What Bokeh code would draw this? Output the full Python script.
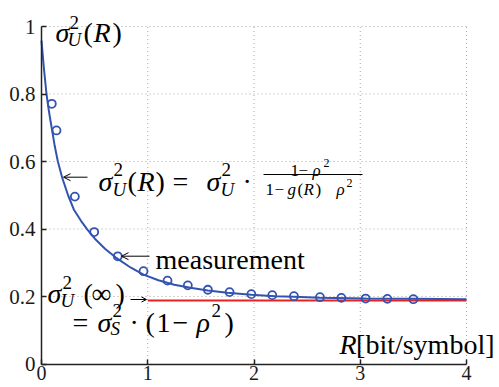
from bokeh.plotting import figure
from bokeh.models import Range1d, Label, Arrow, OpenHead, FixedTicker
from bokeh.embed import file_html
from bokeh.resources import INLINE

# ---- data ----
R_curve = [0.000, 0.020, 0.047, 0.069, 0.085, 0.100, 0.125, 0.154, 0.195, 0.250,
           0.304, 0.370, 0.430, 0.500, 0.600, 0.697, 0.838, 0.960, 1.100, 1.250,
           1.400, 1.566, 1.750, 1.975, 2.200, 2.376, 2.620, 3.050, 3.500, 4.000]
var_curve = [0.958, 0.885, 0.800, 0.751, 0.720, 0.692, 0.645, 0.600, 0.552, 0.500,
             0.458, 0.425, 0.399, 0.372, 0.341, 0.316, 0.286, 0.265, 0.248, 0.235,
             0.226, 0.218, 0.211, 0.205, 0.201, 0.199, 0.196, 0.194, 0.193, 0.192]

R_meas = [0.097, 0.141, 0.314, 0.496, 0.718, 0.960, 1.186, 1.377, 1.566, 1.770,
          1.975, 2.172, 2.376, 2.621, 2.822, 3.051, 3.255, 3.500]
var_meas = [0.771, 0.692, 0.496, 0.391, 0.319, 0.275, 0.247, 0.233, 0.220, 0.213,
            0.207, 0.204, 0.201, 0.198, 0.196, 0.194, 0.193, 0.192]

R_limit = [1.0, 4.0]
var_limit = [0.188, 0.188]

x_ticks = [0, 1, 2, 3, 4]
x_tick_labels = ["0", "1", "2", "3", "4"]
y_ticks = [0, 0.2, 0.4, 0.6, 0.8, 1]
y_tick_labels = ["0", "0.2", "0.4", "0.6", "0.8", "1"]

BLUE = "#3353b0"
RED = "#e62222"
FONT = "Liberation Serif"

W, H = 499, 387
# canvas-pixel geometry of the axes box
FX0, FX1, FY1, FY0 = 41.0, 466.0, 26.0, 363.5
XMIN, XMAX = x_ticks[0], x_ticks[-1]
YMIN, YMAX = y_ticks[0], y_ticks[-1]


def sx(px):
    return XMIN + (px - FX0) / (FX1 - FX0) * (XMAX - XMIN)


def sy(py):
    return YMIN + (FY0 - py) / (FY0 - FY1) * (YMAX - YMIN)


p = figure(width=W, height=H, x_range=Range1d(sx(0), sx(W)), y_range=Range1d(sy(H), sy(0)),
           output_backend="svg", toolbar_location=None, min_border=0)
p.outline_line_color = None
p.background_fill_color = "white"
p.border_fill_color = "white"
p.grid.visible = False

# axes drawn at the data origin, limited to the data box
xa, ya = p.xaxis[0], p.yaxis[0]
xa.fixed_location = YMIN
ya.fixed_location = XMIN
xa.bounds = (XMIN, XMAX)
ya.bounds = (YMIN, YMAX)
for ax in (xa, ya):
    ax.axis_line_color = "#222222"
    ax.axis_line_width = 1.5
    ax.major_tick_in = 5
    ax.major_tick_out = 0
    ax.major_tick_line_color = "#222222"
    ax.major_tick_line_width = 1.5
    ax.minor_tick_line_color = None
    ax.major_label_text_font = FONT
    ax.major_label_text_color = "#1a1a1a"
xa.ticker = FixedTicker(ticks=x_ticks)
ya.ticker = FixedTicker(ticks=y_ticks)
xa.major_label_overrides = {t: s for t, s in zip(x_ticks, x_tick_labels)}
ya.major_label_overrides = {t: s for t, s in zip(y_ticks, y_tick_labels)}
xa.major_label_text_font_size = "20px"
ya.major_label_text_font_size = "21px"
xa.major_label_standoff = 2
ya.major_label_standoff = 6

# dotted grid inside the data box (also closes the box on top / right)
gx = x_ticks[1:]
gy = y_ticks[1:]
p.segment(x0=gx, y0=[YMIN] * len(gx), x1=gx, y1=[YMAX] * len(gx),
          line_color="#a8a8a8", line_dash="1 3", line_width=1)
p.segment(x0=[XMIN] * len(gy), y0=gy, x1=[XMAX] * len(gy), y1=gy,
          line_color="#a8a8a8", line_dash="1 3", line_width=1)

# data marks
p.line(R_limit, var_limit, line_color=RED, line_width=2)
p.line(R_curve, var_curve, line_color=BLUE, line_width=2)
p.scatter(R_meas, var_meas, marker="circle", size=8, line_color=BLUE,
          fill_color=None, line_width=1.8)


def put(text, px, py, size, italic=False, align="left"):
    p.add_layout(Label(x=sx(px), y=sy(py), text=text, text_font=FONT,
                       text_font_size=f"{size}px",
                       text_font_style="italic" if italic else "normal",
                       text_align=align, text_baseline="alphabetic",
                       text_color="black"))


def arrow(x0, y0, x1, y1, head=7):
    p.add_layout(Arrow(x_start=sx(x0), y_start=sy(y0), x_end=sx(x1), y_end=sy(y1),
                       line_width=1, line_color="black",
                       end=OpenHead(size=head, line_width=1, line_color="black")))


# y-axis title  sigma_U^2(R)
put("σ", 55, 32, 28, True)
put("2", 69, 22, 19)
put("U", 67, 39, 19, True)
put("(", 83, 32, 28)
put("R", 93, 32, 28, True)
put(")", 112, 32, 28)

# formula
arrow(87, 176.7, 63, 176.7)
put("σ", 98, 181, 28, True)
put("2", 113, 169, 19)
put("U", 112, 189, 19, True)
put("(", 127, 181, 28)
put("R", 137, 181, 28, True)
put(")", 155, 181, 28)
put("=", 172, 181, 28)
put("σ", 206, 181, 28, True)
put("2", 221, 169, 19)
put("U", 220, 189, 19, True)
put("·", 242, 181, 28)
put("1", 290, 170, 17)
put("−", 298, 170, 17)
put("ρ", 312, 170, 17, True)
put("2", 323, 162, 12)
p.add_layout(Arrow(x_start=sx(263), y_start=sy(174), x_end=sx(362), y_end=sy(174),
                   line_width=1, line_color="black", start=None, end=None))
put("1", 265, 189, 17)
put("−", 274, 189, 17)
put("g", 287, 189, 17, True)
put("(", 297, 189, 17)
put("R", 303, 189, 17, True)
put(")", 315, 189, 17)
put("ρ", 336, 189, 17, True)
put("2", 346, 182, 12)

# measurement annotation
arrow(149, 255.7, 121, 255.7)
put("measurement", 155, 259, 28)

# asymptote annotation
put("σ", 47, 293, 28, True)
put("2", 62, 282, 19)
put("U", 60, 300, 19, True)
put("(", 83, 293, 28)
put("∞", 91, 293, 28)
put(")", 115, 293, 28)
arrow(130, 299, 146, 299, head=5)
put("=", 72, 322, 28)
put("σ", 97, 322, 28, True)
put("2", 112, 310, 19)
put("S", 110, 328, 19, True)
put("·", 129, 322, 28)
put("(", 145, 322, 28)
put("1", 156, 322, 28)
put("−", 172, 322, 28)
put("ρ", 196, 322, 28, True)
put("2", 211, 310, 19)
put(")", 224, 322, 28)

# x-axis title
put("R", 356, 344, 28, True, align="right")
put("[bit/symbol]", 494, 344, 28, align="right")

open("out.html", "w").write(file_html(p, INLINE))
